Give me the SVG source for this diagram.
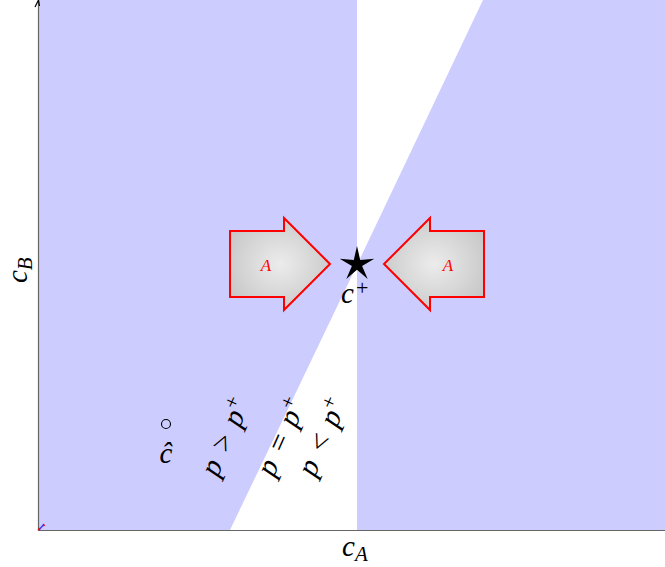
<svg xmlns="http://www.w3.org/2000/svg" width="665" height="567" viewBox="0 0 665 567">
<style>
.region{fill:#ccccff;stroke:none}
.axis{stroke:#666;stroke-width:1.2;fill:none}
.arrow{stroke:#ff0000;stroke-width:2;fill:url(#gray)}
.math{font-family:"Liberation Serif","DejaVu Serif",serif;font-style:italic;fill:#000}
.up{font-family:"Liberation Serif","DejaVu Serif",serif;font-style:normal}
.lab{font-family:"Liberation Serif","DejaVu Serif",serif;font-style:italic;fill:#ff0000;font-size:17px}
</style>
<defs>
<radialGradient id="gray" cx="0.5" cy="0.5" r="0.6">
<stop offset="0" stop-color="#ececec"/>
<stop offset="1" stop-color="#c6c6c6"/>
</radialGradient>
</defs>
<rect width="665" height="567" fill="#fff"/>
<g id="regions">
<polygon class="region" points="39,0 357,0 357,265 230,530 39,530"/>
<polygon class="region" points="483,0 665,0 665,530 357,530 357,265"/>
</g>
<g id="axes">
<line class="axis" x1="38.5" y1="531" x2="38.5" y2="2"/>
<line class="axis" x1="38" y1="530.5" x2="665" y2="530.5"/>
<path d="M35,7 L38.5,0 L39.5,6" fill="none" stroke="#000" stroke-width="1.2"/>
<line x1="39" y1="530" x2="44" y2="524" stroke="#3333ff" stroke-width="1.2"/>
<line x1="43" y1="526" x2="45" y2="525" stroke="#ff0000" stroke-width="1.2"/>
<line x1="38" y1="530" x2="40" y2="528" stroke="#ff0000" stroke-width="1.2"/>
</g>
<g id="arrowLeft">
<polygon class="arrow" points="230,231 284,231 284,218 330,264 284,310 284,297 230,297"/>
<text class="lab" x="266" y="271" text-anchor="middle">A</text>
</g>
<g id="arrowRight">
<polygon class="arrow" points="484,231 430,231 430,218 384,264 430,310 430,297 484,297"/>
<text class="lab" x="448" y="271" text-anchor="middle">A</text>
</g>
<g id="star">
<polygon fill="#000" points="357,246 360.2,259.9 374.3,258.7 362.1,266 367.7,279.1 357,269.8 346.3,279.1 351.9,266 339.7,258.7 353.8,259.9"/>
<text class="math" x="341" y="303" font-size="29">c</text>
<text class="up" x="356" y="295" font-size="22">+</text>
</g>
<g id="chat">
<circle cx="166" cy="424" r="4.5" fill="none" stroke="#000" stroke-width="1.1"/>
<text class="math" x="166" y="463" font-size="29" text-anchor="middle">ĉ</text>
</g>
<g id="labels">
<text class="math" font-size="30" word-spacing="2" transform="translate(234,441) rotate(-66)" text-anchor="middle">p &gt; p<tspan class="up" font-size="21" dy="-11">+</tspan></text>
<text class="math" font-size="30" word-spacing="2" transform="translate(290,441) rotate(-66)" text-anchor="middle">p = p<tspan class="up" font-size="21" dy="-11">+</tspan></text>
<text class="math" font-size="30" word-spacing="2" transform="translate(331,441) rotate(-66)" text-anchor="middle">p &lt; p<tspan class="up" font-size="21" dy="-11">+</tspan></text>
<text class="math" font-size="29" x="342" y="556">c<tspan font-size="21" dy="5">A</tspan></text>
<text class="math" font-size="29" transform="translate(27,283) rotate(-90)">c<tspan font-size="21" dy="5">B</tspan></text>
</g>
</svg>
